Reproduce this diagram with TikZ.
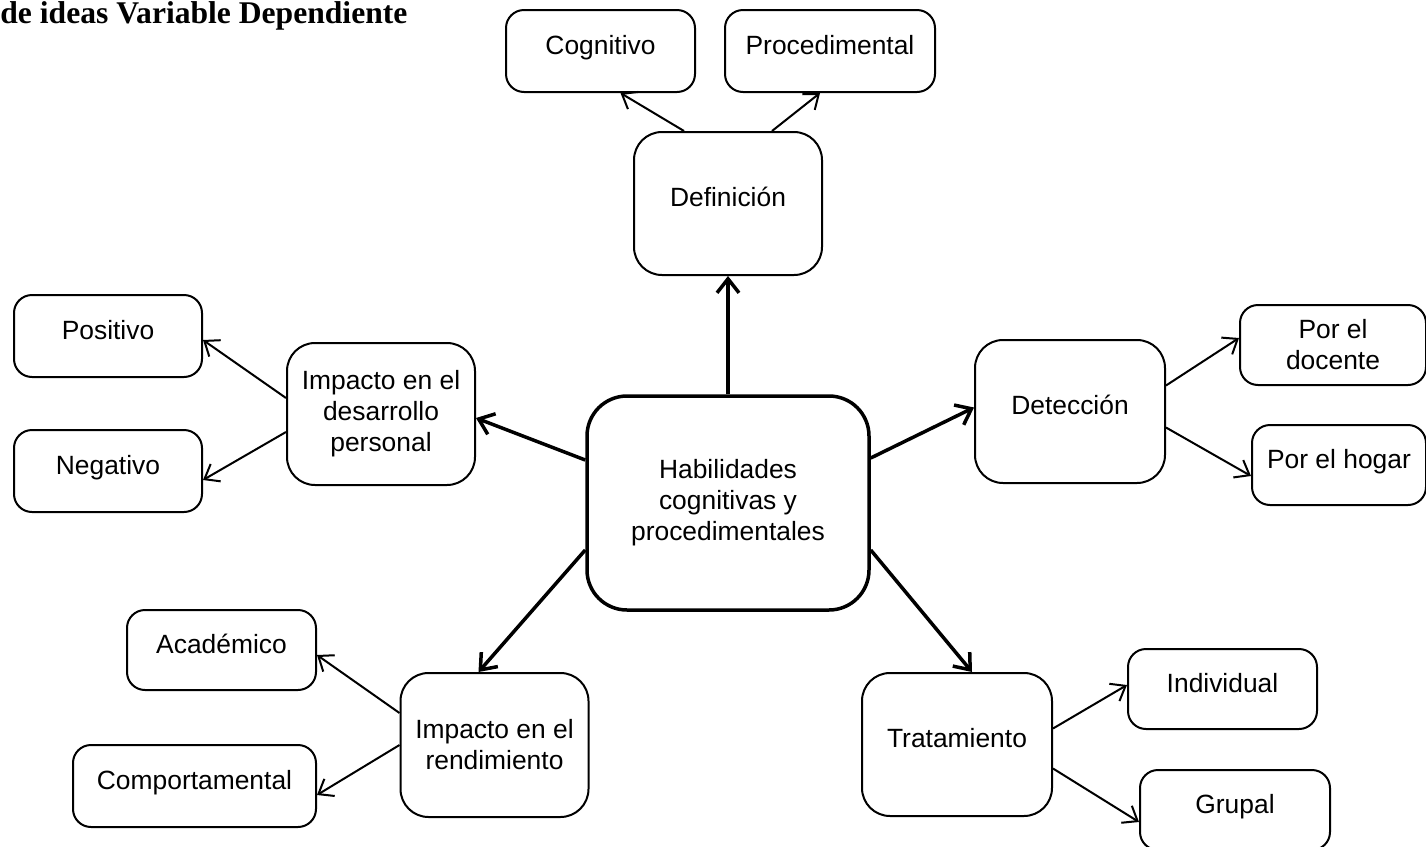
\documentclass[tikz,border=0pt]{standalone}
\usepackage{fontspec}
\setmainfont{Liberation Sans}
\newfontfamily\titlefont{Liberation Serif}
\usetikzlibrary{arrows.meta}

\tikzset{
  caja/.style={rectangle, rounded corners=9pt, draw, line width=1pt, align=center,
    inner sep=2pt, font=\fontsize{13.2}{15.5}\selectfont},
  alto/.style={text height=10pt, text depth=7pt},
  cajamedia/.style={caja, rounded corners=14pt},
  cajacentro/.style={caja, rounded corners=20pt, line width=1.75pt},
  flecha/.style={line width=1.75pt, -{Straight Barb[length=7pt,width=11pt]}},
  rama/.style={line width=1pt, -{Straight Barb[length=6.5pt,width=10pt]}}
}

\begin{document}
\begin{tikzpicture}[x=0.5pt, y=-0.5pt]
  \useasboundingbox (0,0) rectangle (1426,847);

  \node[anchor=base west, inner sep=0pt, font=\titlefont\bfseries\fontsize{15.8}{18}\selectfont] (titulo) at (0,23) {de ideas Variable Dependiente};

  % nodo central
  \node[cajacentro, minimum width=141pt, minimum height=107pt] (hab) at (728,503) {Habilidades\\cognitivas y\\procedimentales};

  % ramas principales
  \node[cajamedia, alto, minimum width=94pt, minimum height=71.5pt] (def) at (728,203.5) {Definición};
  \node[cajamedia, minimum width=94pt, minimum height=71pt] (desa) at (381,414) {Impacto en el\\desarrollo\\personal};
  \node[cajamedia, alto, minimum width=95pt, minimum height=71.5pt] (det) at (1070,411.5) {Detección};
  \node[cajamedia, minimum width=94pt, minimum height=72pt] (rend) at (494.5,745) {Impacto en el\\rendimiento};
  \node[cajamedia, alto, minimum width=95pt, minimum height=71.5pt] (trat) at (957,744.5) {Tratamiento};

  % hojas
  \node[caja, alto, minimum width=94.5pt, minimum height=41pt] (cog) at (600.5,51) {Cognitivo};
  \node[caja, alto, minimum width=105pt, minimum height=41pt] (proc) at (830,51) {Procedimental};
  \node[caja, alto, minimum width=94pt, minimum height=41pt] (pos) at (108,336) {Positivo};
  \node[caja, alto, minimum width=94pt, minimum height=41pt] (neg) at (108,471) {Negativo};
  \node[caja, minimum width=93pt, minimum height=40pt] (doc) at (1333,345) {Por el\\docente};
  \node[caja, alto, minimum width=87pt, minimum height=40pt] (hog) at (1339,465) {Por el hogar};
  \node[caja, alto, minimum width=94.5pt, minimum height=40pt] (acad) at (221.5,650) {Académico};
  \node[caja, alto, minimum width=121.5pt, minimum height=41pt] (comp) at (194.5,786) {Comportamental};
  \node[caja, alto, minimum width=94.5pt, minimum height=40pt] (ind) at (1222.5,689) {Individual};
  \node[caja, alto, minimum width=95pt, minimum height=40pt] (grup) at (1235,810) {Grupal};

  % flechas desde el centro
  \draw[flecha] (hab.north) -- (def.south);
  \draw[flecha] ([yshift=21.5pt]hab.west) -- ([yshift=-2pt]desa.east);
  \draw[flecha] ([yshift=22.5pt]hab.east) -- ([yshift=2pt]det.west);
  \draw[flecha] ([yshift=-23.5pt]hab.west) -- ([xshift=-8pt]rend.north);
  \draw[flecha] ([yshift=-23.5pt]hab.east) -- ([xshift=7.5pt]trat.north);

  % flechas secundarias
  \draw[rama] ([xshift=-22pt]def.north) -- ([xshift=10pt]cog.south);
  \draw[rama] ([xshift=22pt]def.north) -- ([xshift=-5pt]proc.south);
  \draw[rama] ([yshift=8pt]desa.west) -- ([yshift=-2pt]pos.east);
  \draw[rama] ([yshift=-9pt]desa.west) -- ([yshift=-4.5pt]neg.east);
  \draw[rama] ([yshift=13pt]det.east) -- ([yshift=3.5pt]doc.west);
  \draw[rama] ([yshift=-8pt]det.east) -- ([yshift=-5.5pt]hog.west);
  \draw[rama] ([yshift=16pt]rend.west) -- ([yshift=-2.5pt]acad.east);
  \draw[rama] (rend.west) -- ([yshift=-4.5pt]comp.east);
  \draw[rama] ([yshift=8pt]trat.east) -- ([yshift=2pt]ind.west);
  \draw[rama] ([yshift=-12pt]trat.east) -- ([yshift=-6pt]grup.west);
\end{tikzpicture}
\end{document}
